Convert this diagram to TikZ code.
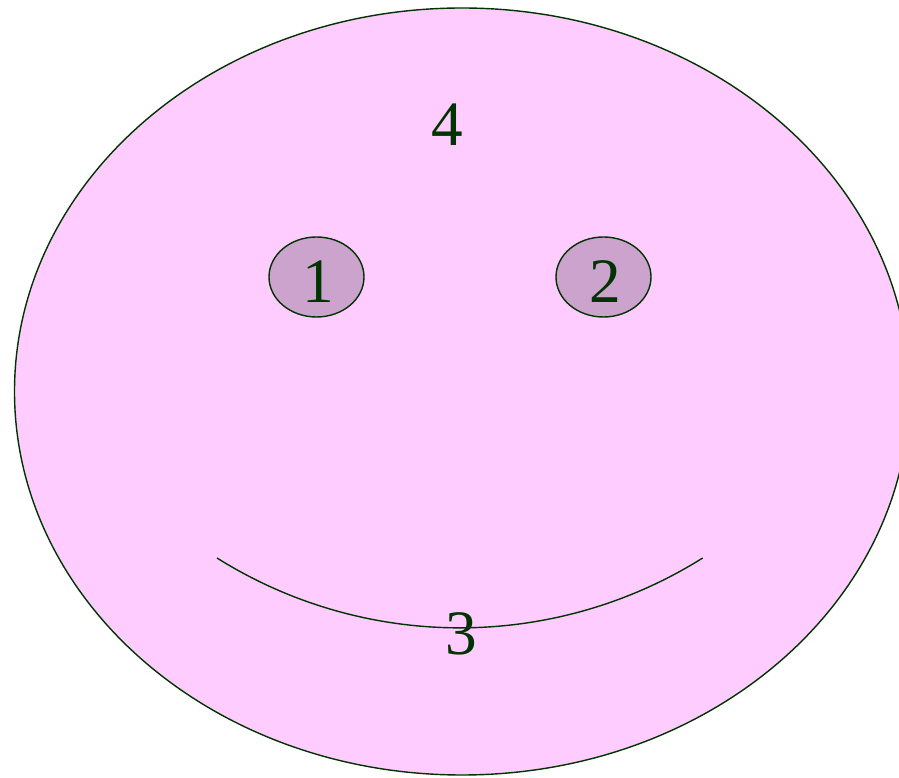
\documentclass[tikz,border=0pt]{standalone}
\usepackage{fontspec}
\setmainfont{Liberation Serif}
\usetikzlibrary{shapes.geometric,positioning}

\definecolor{facepink}{HTML}{FFCCFF}
\definecolor{eyepurple}{HTML}{CCA3CC}
\definecolor{darkline}{HTML}{003300}

\begin{document}
\begin{tikzpicture}[
                face/.style={ellipse, draw=darkline, line width=0.8pt, fill=facepink, inner sep=0pt, minimum width=17.9cm, minimum height=15.34cm},
                eye/.style={ellipse, draw=darkline, line width=0.8pt, fill=eyepurple, inner sep=0pt, minimum width=1.9cm, minimum height=1.6cm},
                num/.style={inner sep=0pt, text=darkline, font=\fontsize{36}{40}\selectfont}
            ]
                \useasboundingbox (0,0) rectangle (17.98,15.56);

                \node[face] (head) at (9.24, 7.73) {};

                \node[eye] (eyeL) at (6.33, 10.02) {};
                \node[eye] (eyeR) at (12.07, 10.02) {};

                % mouth
                \coordinate (mouthL) at (4.34, 4.40);
                \draw[darkline, line width=0.8pt] (mouthL) arc[start angle=237.9, end angle=302.1, radius=9.14cm];

                \node[num] (n1) at (6.36, 9.93) {1};
                \node[num] (n2) at (12.10, 9.93) {2};
                \node[num] (n3) at (9.23, 2.89) {3};
                \node[num] (n4) at (8.94, 13.06) {4};
            \end{tikzpicture}
\end{document}
